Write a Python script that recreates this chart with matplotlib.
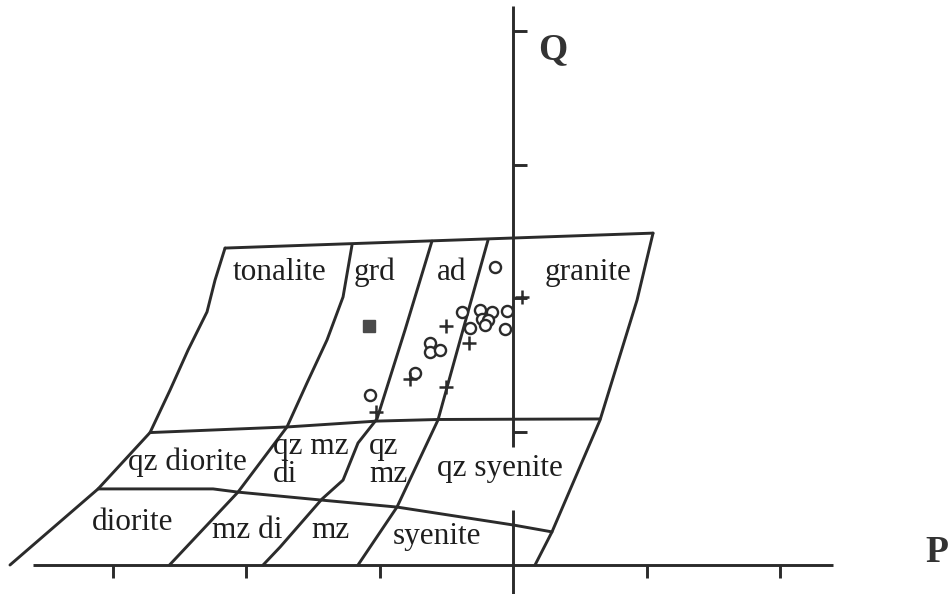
import matplotlib
matplotlib.use('Agg')
import matplotlib.pyplot as plt
import numpy as np

# P-Q classification grid (P = K-(Na+Ca), Q = Si/3-(K+Na+2Ca/3))
TOP_P = [-215.7, 104.9]
TOP_Q = [118.7, 124.3]

LEFT_P = [-215.7, -223.2, -229.2, -243.4, -256.9, -271.9, -310.8, -376.8]
LEFT_Q = [118.7, 106.7, 94.8, 80.5, 65.5, 49.6, 28.5, 0.0]

LINE1_P = [-120.6, -127.3, -139.3, -154.3, -169.3, -206.0, -257.3]
LINE1_Q = [119.8, 100.4, 84.3, 68.2, 51.7, 27.3, 0.0]

LINE2_P = [-60.7, -80.9, -101.9, -116.1, -127.3, -143.1, -174.5, -187.2]
LINE2_Q = [121.3, 88.0, 54.7, 45.7, 31.8, 24.7, 6.7, 0.0]

LINE3_P = [-18.7, -37.5, -56.2, -86.9, -116.1]
LINE3_Q = [121.7, 88.0, 54.3, 21.7, 0.0]

RIGHT_P = [104.9, 92.9, 65.2, 29.2, 16.5]
RIGHT_Q = [124.3, 99.2, 54.3, 12.4, 0.0]

MID_P = [-271.9, -169.3, -101.9, -56.2, 0.0, 65.2]
MID_Q = [49.6, 51.7, 53.9, 54.5, 54.6, 54.7]

LOW_P = [-310.8, -224.7, -206.0, -143.1, -86.9, 0.0, 29.2]
LOW_Q = [28.5, 28.5, 27.3, 24.3, 21.7, 15.0, 12.4]

# field names and where they sit
FIELD_NAMES = ['tonalite', 'grd', 'ad', 'granite', 'qz diorite', 'qz syenite',
               'diorite', 'mz di', 'mz', 'syenite']
FIELD_P = [-174.5, -103.4, -45.7, 56.2, -244.2, -9.7, -284.6, -199.3, -137.1, -56.9]
FIELD_Q = [109.4, 109.7, 109.7, 109.7, 38.6, 36.0, 16.1, 13.1, 13.1, 10.5]

# two-line names, left aligned
STACKED_NAMES = ['qz mz\ndi', 'qz\nmz']
STACKED_P = [-179.8, -107.9]
STACKED_Q = [39.0, 39.3]

# samples
CIRCLE_P = [-13.5, -38.2, -24.7, -15.7, -4.5, -23.2, -18.8, -21.0, -32.2, -6.0,
            -62.2, -62.2, -54.7, -73.4, -107.1]
CIRCLE_Q = [111.6, 94.7, 95.5, 94.7, 95.3, 92.0, 91.8, 89.9, 88.8, 88.4,
            83.1, 79.9, 80.5, 71.9, 63.7]
PLUS_P = [6.5, -50.2, -32.7, -76.9, -50.2, -102.4]
PLUS_Q = [100.2, 89.6, 83.1, 69.7, 66.7, 57.3]
SQUARE_P = [-107.6]
SQUARE_Q = [89.5]

X_TICKS = [-300, -200, -100, 100, 200]
Y_TICKS = [50, 100, 150, 200]

INK = '#2b2b2b'
LW = 2.1

plt.rcParams['font.family'] = ['Liberation Serif', 'DejaVu Serif']

fig = plt.figure(figsize=(9.48, 5.94), dpi=100)
ax = fig.add_axes([0, 0, 1, 1])
ax.set_xlim(-384.27, 325.84)
ax.set_ylim(-10.86, 211.61)
ax.axis('off')

# axes, the Q axis is broken where the qz syenite label crosses it
ax.plot([-359.5, 239.7], [0, 0], color=INK, lw=LW, solid_capstyle='butt')
ax.plot([0, 0], [209.4, 44.2], color=INK, lw=LW, solid_capstyle='butt')
ax.plot([0, 0], [20.6, -12], color=INK, lw=LW, solid_capstyle='butt')
ax.plot(X_TICKS, np.zeros(len(X_TICKS)), ls='none', marker=3, ms=9.5,
        mew=LW, color=INK)
ax.plot(np.zeros(len(Y_TICKS)), Y_TICKS, ls='none', marker=1, ms=10,
        mew=LW, color=INK)

for ps, qs in [(TOP_P, TOP_Q), (LEFT_P, LEFT_Q), (LINE1_P, LINE1_Q),
               (LINE2_P, LINE2_Q), (LINE3_P, LINE3_Q), (RIGHT_P, RIGHT_Q),
               (MID_P, MID_Q), (LOW_P, LOW_Q)]:
    ax.plot(ps, qs, color=INK, lw=LW, solid_joinstyle='round',
            solid_capstyle='round')

for name, p, q in zip(FIELD_NAMES, FIELD_P, FIELD_Q):
    ax.text(p, q, name, fontsize=22.5, ha='center', va='center', color='#1e1e1e')
for name, p, q in zip(STACKED_NAMES, STACKED_P, STACKED_Q):
    ax.text(p, q, name, fontsize=22.5, ha='left', va='center', color='#1e1e1e',
            linespacing=0.95)

ax.plot(CIRCLE_P, CIRCLE_Q, ls='none', marker='o', ms=8, mfc='white',
        mec=INK, mew=1.7)
ax.plot(PLUS_P, PLUS_Q, ls='none', marker='+', ms=10, mew=1.8, color=INK)
ax.plot(SQUARE_P, SQUARE_Q, ls='none', marker='s', ms=8.5, color='#4a4a4a')

ax.text(30.0, 192.9, 'Q', fontsize=27, fontweight='bold', ha='center',
        va='center', color='#333333')
ax.text(317.6, 4.5, 'P', fontsize=27, fontweight='bold', ha='center',
        va='center', color='#333333')

fig.savefig('out.png', dpi=100)
